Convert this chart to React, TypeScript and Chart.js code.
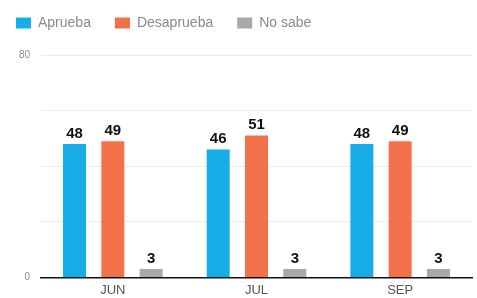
import React, { useEffect, useRef } from "react";
import { Chart, registerables } from "chart.js";

Chart.register(...registerables);

const categories = ["JUN", "JUL", "SEP"];
const aprueba = [48, 46, 48];
const desaprueba = [49, 51, 49];
const noSabe = [3, 3, 3];
const yTicksShown = [0, 80];

const valueLabels = {
  id: "valueLabels",
  afterDatasetsDraw(chart: any) {
    const ctx = chart.ctx;
    ctx.save();
    ctx.fillStyle = "#111";
    ctx.font = "bold 15px 'Liberation Sans', Arial, sans-serif";
    ctx.textAlign = "center";
    ctx.textBaseline = "bottom";
    chart.data.datasets.forEach((ds: any, i: number) => {
      const meta = chart.getDatasetMeta(i);
      meta.data.forEach((bar: any, j: number) => {
        ctx.fillText(String(ds.data[j]), bar.x, bar.y - 3);
      });
    });
    ctx.restore();
  },
};

const legendMargin = {
  id: "legendMargin",
  beforeInit(chart: any) {
    const fit = chart.legend.fit;
    chart.legend.fit = function () {
      fit.bind(chart.legend)();
      this.height += 15;
    };
  },
};

export default function App() {
  const ref = useRef<HTMLCanvasElement>(null);
  useEffect(() => {
    if (!ref.current) return;
    const chart = new Chart(ref.current, {
      type: "bar",
      data: {
        labels: categories,
        datasets: [
          { label: "Aprueba", data: aprueba, backgroundColor: "#17aee8" },
          { label: "Desaprueba", data: desaprueba, backgroundColor: "#f2714a" },
          { label: "No sabe", data: noSabe, backgroundColor: "#a9a9a9" },
        ],
      },
      options: {
        animation: false,
        responsive: false,
        maintainAspectRatio: false,
        layout: { padding: { top: -8, left: -8, right: 5, bottom: -5 } },
        datasets: { bar: { categoryPercentage: 0.8, barPercentage: 0.6 } } as any,
        plugins: {
          legend: {
            position: "top",
            align: "start",
            labels: {
              boxWidth: 15,
              boxHeight: 11,
              padding: 24,
              color: "#8a8a8a",
              font: { size: 14, family: "'Liberation Sans', Arial, sans-serif" },
            },
          },
          tooltip: { enabled: false },
        },
        scales: {
          x: {
            grid: { display: false, drawTicks: false },
            border: { display: true, color: "#111", width: 1.5 },
            ticks: {
              color: "#555",
              padding: 5,
              font: { size: 13, family: "'Liberation Sans', Arial, sans-serif" },
            },
          },
          y: {
            min: 0,
            max: 80,
            afterFit: (scale: any) => {
              scale.width = 49;
            },
            grid: { color: "#ececec", drawTicks: false },
            border: { display: false },
            ticks: {
              stepSize: 20,
              padding: 11,
              color: "#888",
              font: { size: 10, family: "'Liberation Sans', Arial, sans-serif" },
              callback: (v: any) => (yTicksShown.includes(Number(v)) ? String(v) : ""),
            },
          },
        },
      },
      plugins: [valueLabels, legendMargin],
    });
    return () => chart.destroy();
  }, []);
  return (
    <div style={{ position: "absolute", left: 0, top: 0, width: 477, height: 298, background: "#fff" }}>
      <canvas ref={ref} width={477} height={298} style={{ width: 477, height: 298 }} />
    </div>
  );
}
